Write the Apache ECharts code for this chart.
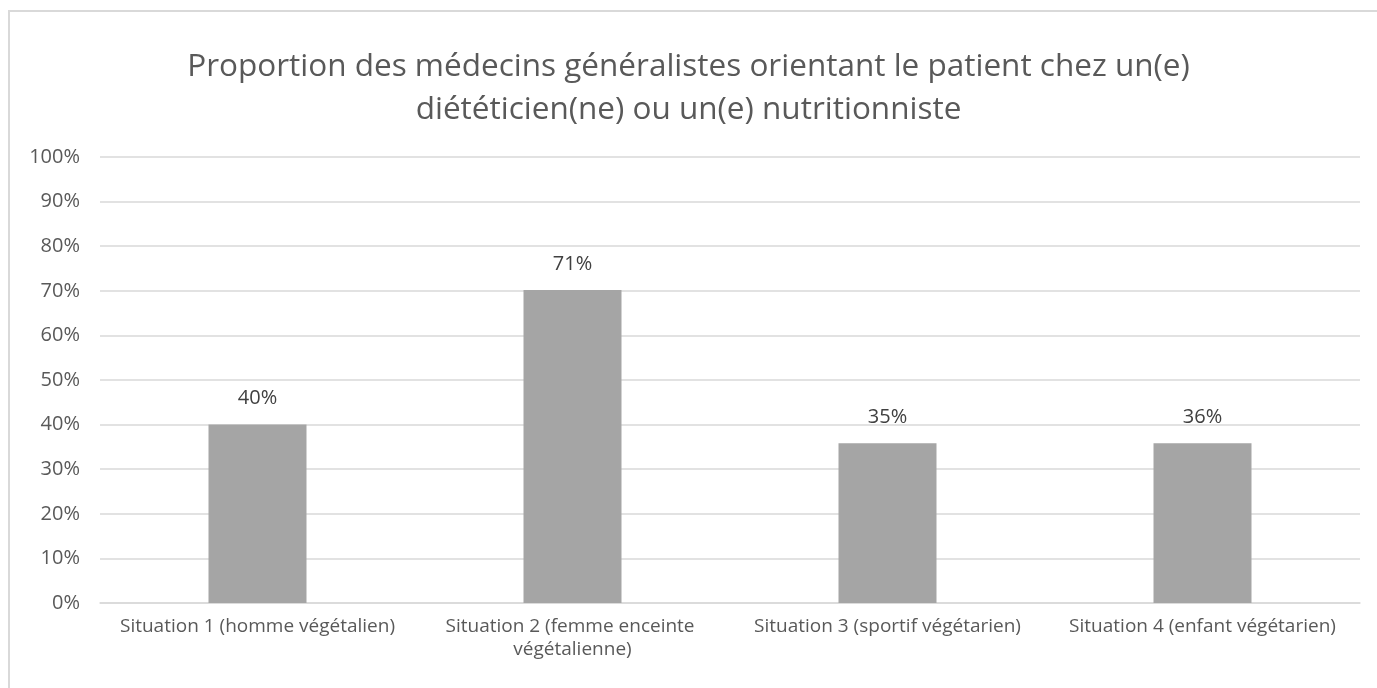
<!DOCTYPE html>
<html>
<head>
<meta charset="utf-8">
<script src="https://cdn.jsdelivr.net/npm/echarts@6/dist/echarts.min.js"></script>
<style>
html, body { margin: 0; padding: 0; background: #fff; overflow: hidden; }
#frame {
    position: absolute; left: 8px; top: 10px; width: 1400px; height: 700px;
    border: 2px solid #d9d9d9; box-sizing: border-box;
}
#chart { position: absolute; left: 0; top: 0; width: 1377px; height: 688px; }
</style>
</head>
<body>
<div id="frame"></div>
<div id="chart"></div>
<script>
// situations
const categories = [
    'Situation 1 (homme végétalien)',
    'Situation 2 (femme enceinte végétalienne)',
    'Situation 3 (sportif végétarien)',
    'Situation 4 (enfant végétarien)'
]
// bar heights as drawn (%)
const values = [40, 70.2, 35.8, 35.8]
// data labels as printed
const labels = ['40%', '71%', '35%', '36%']

const font = '"Open Sans", sans-serif'
const grey = '#595959'

let myChart = echarts.init(document.getElementById('chart'))
let option = {
    animation: false,
    title: {
        text: 'Proportion des médecins généralistes orientant le patient chez un(e)\ndiététicien(ne) ou un(e) nutritionniste',
        left: 'center',
        top: 41,
        textStyle: {
            color: grey,
            fontFamily: font,
            fontWeight: 'normal',
            fontSize: 31.5,
            lineHeight: 43
        }
    },
    grid: {
        left: 100,
        right: 17,
        top: 157,
        bottom: 85
    },
    xAxis: {
        type: 'category',
        data: categories,
        axisLine: { lineStyle: { color: '#d9d9d9', width: 1.5 } },
        axisTick: { show: false },
        axisLabel: {
            interval: 0,
            color: grey,
            fontFamily: font,
            fontSize: 19,
            lineHeight: 23,
            margin: 12,
            width: 312,
            overflow: 'break'
        }
    },
    yAxis: {
        type: 'value',
        min: 0,
        max: 100,
        interval: 10,
        axisLine: { show: false },
        axisTick: { show: false },
        splitLine: { lineStyle: { color: '#d9d9d9', width: 1.5 } },
        axisLabel: {
            color: grey,
            fontFamily: font,
            fontSize: 20,
            margin: 20,
            formatter: '{value}%'
        }
    },
    series: [{
        type: 'bar',
        data: values,
        barWidth: 98,
        itemStyle: { color: '#a5a5a5' },
        label: {
            show: true,
            position: 'top',
            distance: 16,
            color: '#404040',
            fontFamily: font,
            fontSize: 20,
            formatter: p => labels[p.dataIndex]
        }
    }]
}
myChart.setOption(option)
window.onresize = myChart.resize
</script>
</body>
</html>
